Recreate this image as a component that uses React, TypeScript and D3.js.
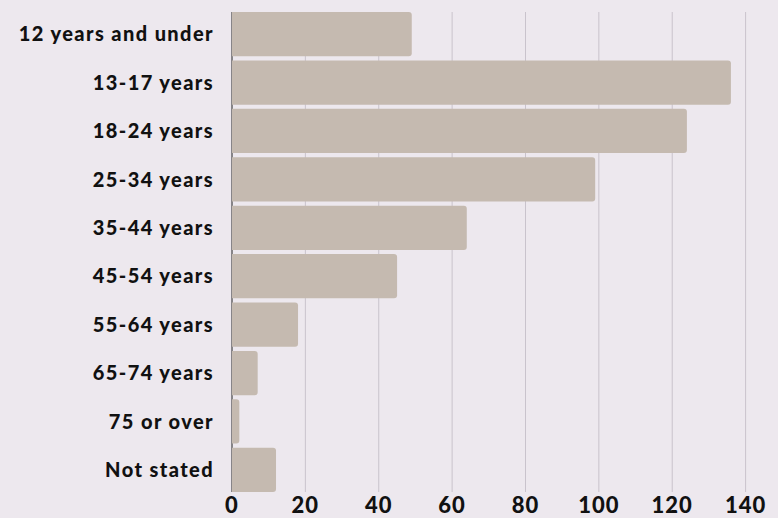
import React from "react";
import * as d3 from "d3";

const categories = [
  "12 years and under",
  "13-17 years",
  "18-24 years",
  "25-34 years",
  "35-44 years",
  "45-54 years",
  "55-64 years",
  "65-74 years",
  "75 or over",
  "Not stated",
];
const values = [49, 136, 124, 99, 64, 45, 18, 7, 2, 12];
const xTicks = [0, 20, 40, 60, 80, 100, 120, 140];

const W = 778;
const H = 518;
const M = { left: 232, right: 32.4, top: 12, bottom: 26 };
const FONT = "Lato, 'Noto Sans', sans-serif";

export default function App() {
  const x = d3.scaleLinear().domain([0, 140]).range([M.left, W - M.right]);
  const y = d3
    .scaleBand<string>()
    .domain(categories)
    .range([M.top, H - M.bottom])
    .paddingInner(0.085)
    .paddingOuter(0);
  const r = 3;
  const barPath = (v: number, c: string) => {
    const x0 = x(0);
    const x1 = x(v);
    const y0 = y(c)!;
    const h = y.bandwidth();
    const rr = Math.min(r, (x1 - x0) / 2);
    const p = d3.path();
    p.moveTo(x0, y0);
    p.lineTo(x1 - rr, y0);
    p.arcTo(x1, y0, x1, y0 + rr, rr);
    p.lineTo(x1, y0 + h - rr);
    p.arcTo(x1, y0 + h, x1 - rr, y0 + h, rr);
    p.lineTo(x0, y0 + h);
    p.closePath();
    return p.toString();
  };
  return (
    <div style={{ position: "absolute", left: 0, top: 0 }}>
      <svg width={W} height={H} style={{ display: "block", background: "#ede8ee" }}>
        <rect x={0} y={0} width={W} height={H} fill="#ede8ee" />
        {xTicks.map((t) => (
          <line
            key={t}
            x1={x(t)}
            x2={x(t)}
            y1={M.top}
            y2={H - M.bottom}
            stroke="#c9c3cc"
            strokeWidth={1}
          />
        ))}
        <line x1={x(0)} x2={x(0)} y1={M.top} y2={H - M.bottom} stroke="#333" strokeWidth={1} />
        {categories.map((c, i) => (
          <path key={c} d={barPath(values[i], c)} fill="#c5bab0" />
        ))}
        {categories.map((c) => (
          <text
            key={c}
            x={214}
            y={y(c)! + y.bandwidth() / 2}
            dy="0.36em"
            textAnchor="end"
            fontFamily={FONT}
            fontWeight={900}
            fontSize={20}
            letterSpacing={1.4}
            fill="#111"
          >
            {c}
          </text>
        ))}
        {xTicks.map((t) => (
          <text
            key={t}
            x={x(t)}
            y={505}
            dy="0.36em"
            textAnchor="middle"
            fontFamily={FONT}
            fontWeight={900}
            fontSize={22}
            letterSpacing={1}
            fill="#111"
          >
            {t}
          </text>
        ))}
      </svg>
    </div>
  );
}
